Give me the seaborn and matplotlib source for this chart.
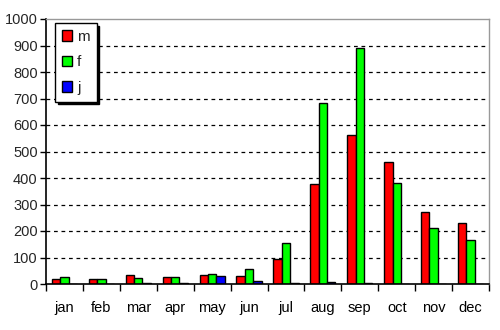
import matplotlib
matplotlib.use("Agg")
import matplotlib.pyplot as plt
import seaborn as sns
import pandas as pd
from matplotlib.patches import Patch
from matplotlib.ticker import MultipleLocator, FixedLocator

months = ["jan", "feb", "mar", "apr", "may", "jun", "jul", "aug", "sep", "oct", "nov", "dec"]
m_vals = [18, 18, 33, 25, 33, 29, 94, 376, 562, 459, 270, 230]
f_vals = [25, 18, 22, 25, 37, 56, 154, 682, 889, 380, 210, 165]
j_vals = [0, 0, 3, 3, 29, 10, 5, 8, 5, 0, 0, 0]
series = ["m", "f", "j"]
colors = ["#ff0000", "#00ff00", "#0000ff"]

rows = []
for i, mo in enumerate(months):
    for s, vals in zip(series, [m_vals, f_vals, j_vals]):
        rows.append({"month": mo, "series": s, "value": vals[i]})
df = pd.DataFrame(rows)

sns.set_theme(style="white")
plt.rcParams["font.family"] = ["Liberation Sans", "DejaVu Sans"]

fig = plt.figure(figsize=(5, 3.3), dpi=100)
ax = fig.add_axes([46/500, 1 - 284/330, (489-46)/500, (284-19)/330])

sns.barplot(data=df, x="month", y="value", hue="series", palette=colors,
            order=months, hue_order=series, width=0.68, edgecolor="black",
            linewidth=1, saturation=1, ax=ax, legend=False)

ax.set_ylim(0, 1000)
ax.set_xlim(-0.5, 11.5)
ax.yaxis.set_major_locator(MultipleLocator(100))
for y in range(100, 1000, 100):
    ax.axhline(y, color="black", linestyle=(0, (3, 3)), linewidth=0.9, zorder=0)

for side in ["left", "bottom"]:
    ax.spines[side].set_color("black")
    ax.spines[side].set_linewidth(1.2)
for side in ["top", "right"]:
    ax.spines[side].set_visible(True)
    ax.spines[side].set_color("#999999")
    ax.spines[side].set_linewidth(1)

ax.set_xlabel("")
ax.set_ylabel("")
ax.xaxis.set_minor_locator(FixedLocator([i - 0.5 for i in range(13)]))
ax.tick_params(axis="x", which="major", length=0, pad=12, labelsize=10.5, colors="black")
ax.tick_params(axis="x", which="minor", length=5, width=1, color="black", direction="out", bottom=True)
ax.tick_params(axis="y", which="major", length=4, width=1, color="black", direction="out", left=True, labelsize=10.5, pad=2)

handles = [Patch(facecolor=c, edgecolor="black", label=s) for c, s in zip(colors, series)]
leg = ax.legend(handles=handles, loc="upper left", bbox_to_anchor=(0.02, 0.985),
                borderaxespad=0, frameon=True, fancybox=False, fontsize=11,
                handlelength=0.7, handleheight=0.7, handletextpad=0.3,
                labelspacing=0.75, borderpad=0.45,
                shadow={"color": "black", "alpha": 1})
leg.get_frame().set_edgecolor("black")
leg.get_frame().set_linewidth(1)

fig.savefig("out.png", dpi=100)
